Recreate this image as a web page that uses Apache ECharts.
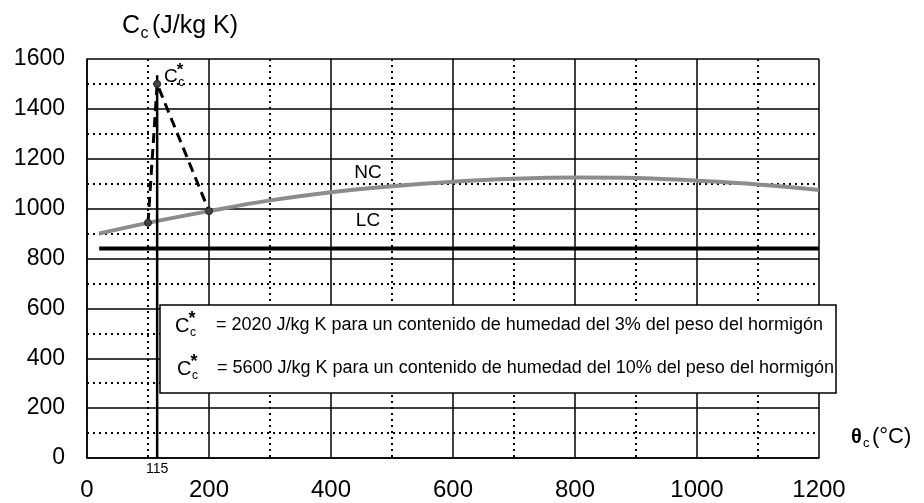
<!DOCTYPE html>
<html><head><meta charset="utf-8">
<script src="https://cdn.jsdelivr.net/npm/echarts@6/dist/echarts.min.js"></script>
<style>html,body{margin:0;padding:0;background:#fff}#c{width:924px;height:503px}</style>
</head><body><div id="c"></div>
<script>
// ---- data ----
const ncTemps  = [20, 100, 200, 300, 400, 500, 600, 700, 800, 900, 1000, 1100, 1200];
const ncValues = [900, 943, 990, 1033, 1066, 1090, 1108, 1120, 1125, 1123, 1112, 1097, 1075];
const lcTemps  = [20, 1200];
const lcValues = [840, 840];
const peakTemps  = [100, 115, 200];
const peakValues = [943, 1500, 990];
const markTemp   = 115;
const markValues = [0, 1535];
const xAxisRange = [0, 1200];
const yAxisRange = [0, 1600];
const tickStep = 200;
const legendTexts = [
  '= 2020 J/kg K para un contenido de humedad del 3% del peso del hormigón',
  '= 5600 J/kg K para un contenido de humedad del 10% del peso del hormigón'
];
const yTitle = '(J/kg K)';
const xTitle = '(°C)';

const FONT = '"Liberation Sans", Arial, Helvetica, sans-serif';
const chart = echarts.init(document.getElementById('c'), null, {renderer: 'canvas'});

const pair = (xs, ys) => xs.map((x, i) => [x, ys[i]]);

function cSym(x, y, size, star) {
  // "C" with superscript star and subscript c
  const els = [
    {type: 'text', x: x, y: y, style: {text: 'C', font: size + 'px ' + FONT, fill: '#000', textVerticalAlign: 'middle'}}
  ];
  const w = size * 0.72;
  if (star) els.push({type: 'text', x: x + w - 1, y: y - size * 0.34, style: {text: '*', font: 'bold ' + Math.round(size * 0.9) + 'px ' + FONT, fill: '#000', textVerticalAlign: 'middle'}});
  els.push({type: 'text', x: x + w + 0.5, y: y + size * 0.32, style: {text: 'c', font: Math.round(size * 0.62) + 'px ' + FONT, fill: '#000', textVerticalAlign: 'middle'}});
  return els;
}

const graphics = [];
// y-axis title
graphics.push(...cSym(122, 26, 25, false));
graphics.push({type: 'text', x: 152, y: 26, style: {text: yTitle, font: '25px ' + FONT, fill: '#000', textVerticalAlign: 'middle'}});
// x-axis title
graphics.push({type: 'text', x: 851, y: 437, style: {text: 'θ', font: 'bold 20px ' + FONT, fill: '#000', textVerticalAlign: 'middle'}});
graphics.push({type: 'text', x: 863, y: 443, style: {text: 'c', font: '13px ' + FONT, fill: '#000', textVerticalAlign: 'middle'}});
graphics.push({type: 'text', x: 872, y: 437, style: {text: xTitle, font: '22px ' + FONT, fill: '#000', textVerticalAlign: 'middle'}});
// curve labels
graphics.push({type: 'text', x: 368, y: 173, style: {text: 'NC', font: '19px ' + FONT, fill: '#000', textAlign: 'center', textVerticalAlign: 'middle'}});
graphics.push({type: 'text', x: 368, y: 221, style: {text: 'LC', font: '19px ' + FONT, fill: '#000', textAlign: 'center', textVerticalAlign: 'middle'}});
// peak label
graphics.push(...cSym(164, 77, 19, true));
// legend box
graphics.push({type: 'rect', shape: {x: 160, y: 305, width: 676, height: 88}, style: {fill: '#fff', stroke: '#000', lineWidth: 1.5}, z: 100});
graphics.push(...cSym(175, 326, 20, true).map(e => Object.assign(e, {z: 101})));
graphics.push({type: 'text', x: 216, y: 325, z: 101, style: {text: legendTexts[0], font: '18px ' + FONT, fill: '#000', textVerticalAlign: 'middle'}});
graphics.push(...cSym(177, 369, 20, true).map(e => Object.assign(e, {z: 101})));
graphics.push({type: 'text', x: 217, y: 368, z: 101, style: {text: legendTexts[1], font: '18px ' + FONT, fill: '#000', textVerticalAlign: 'middle'}});

const gridLine = {show: true, lineStyle: {color: '#000', width: 1.5, type: 'solid'}};
const minorLine = {show: true, lineStyle: {color: '#000', width: 2, type: [2, 4]}};
const plain = v => String(v);

const option = {
  backgroundColor: '#fff',
  animation: false,
  grid: {left: 87, right: 105, top: 59, bottom: 45, containLabel: false},
  xAxis: {
    type: 'value', min: xAxisRange[0], max: xAxisRange[1], interval: tickStep,
    axisLine: {show: true, lineStyle: {color: '#000', width: 1.5}},
    axisTick: {show: false},
    minorTick: {show: false, splitNumber: 2},
    splitLine: gridLine,
    minorSplitLine: minorLine,
    axisLabel: {color: '#000', fontSize: 24, fontFamily: FONT, margin: 20, showMinLabel: true, showMaxLabel: true, formatter: plain}
  },
  yAxis: {
    type: 'value', min: yAxisRange[0], max: yAxisRange[1], interval: tickStep,
    axisLine: {show: true, lineStyle: {color: '#000', width: 1.5}},
    axisTick: {show: false},
    minorTick: {show: false, splitNumber: 2},
    splitLine: gridLine,
    minorSplitLine: minorLine,
    axisLabel: {color: '#000', fontSize: 23, fontFamily: FONT, margin: 22, showMinLabel: true, showMaxLabel: true, formatter: plain}
  },
  series: [
    {
      type: 'line', name: 'LC', data: pair(lcTemps, lcValues), showSymbol: false,
      lineStyle: {color: '#000', width: 4}, z: 3
    },
    {
      type: 'line', name: 'NC', data: pair(ncTemps, ncValues), smooth: 0.4, showSymbol: false,
      lineStyle: {color: '#8c8c8c', width: 4}, z: 4
    },
    {
      type: 'line', name: 'mark', data: markValues.map((v, i) => ({
        value: [markTemp, v],
        label: i === 0 ? {show: true, position: 'bottom', distance: 3, formatter: String(markTemp), fontSize: 14, color: '#000', fontFamily: FONT} : {show: false}
      })),
      showSymbol: true, symbolSize: 0.1, lineStyle: {color: '#000', width: 2.5}, z: 5
    },
    {
      type: 'line', name: 'peak', data: pair(peakTemps, peakValues), symbol: 'circle', symbolSize: 7,
      itemStyle: {color: '#444', borderColor: '#222', borderWidth: 1},
      lineStyle: {color: '#000', width: 3, type: [10, 6]}, z: 6
    }
  ],
  graphic: graphics
};
chart.setOption(option);
</script></body></html>
